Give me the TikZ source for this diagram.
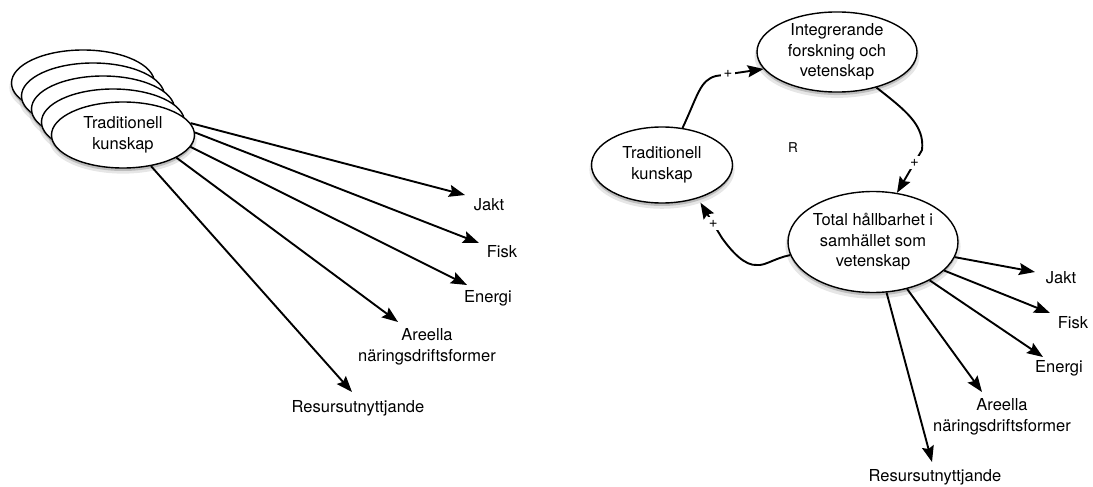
\documentclass[tikz,border=0pt]{standalone}
\usepackage{fontspec}
\setmainfont{TeX Gyre Heros}
\usetikzlibrary{shapes.geometric,shadows,arrows.meta}
\begin{document}
\begin{tikzpicture}[x=1pt,y=-1pt,
  bub/.style={ellipse, draw, line width=1.4pt, fill=white, inner sep=0pt, align=center,
    font=\fontsize{16.5}{20.5}\selectfont,
    drop shadow={shadow xshift=0pt, shadow yshift=-4.5pt, shadow scale=1.03, opacity=0.2},
    drop shadow={shadow xshift=0pt, shadow yshift=-3pt, opacity=0.4}},
  lbl/.style={align=center, inner sep=0pt, font=\fontsize{16.5}{20.5}\selectfont},
  sml/.style={inner sep=3pt, fill=white, font=\fontsize{15}{17}\selectfont},
  arr/.style={line width=1.9pt, -{Stealth[length=16pt,width=12pt,inset=2.5pt]}}]
\useasboundingbox (0,0) rectangle (1093,487);

% ---- left: stacked ellipses
\node[bub, minimum width=143pt, minimum height=66pt] (S4) at (83,83) {};
\node[bub, minimum width=143pt, minimum height=66pt] (S3) at (93,96) {};
\node[bub, minimum width=143pt, minimum height=66pt] (S2) at (103,109) {};
\node[bub, minimum width=143pt, minimum height=66pt] (S1) at (113,122) {};
\node[bub, minimum width=143pt, minimum height=66pt] (T1) at (123,135) {Traditionell\\kunskap};

\node[lbl] (J1) at (489,205) {Jakt};
\node[lbl] (F1) at (502,252) {Fisk};
\node[lbl] (E1) at (488,298) {Energi};
\node[lbl] (A1) at (427,347) {Areella\\näringsdriftsformer};
\node[lbl] (R1) at (358,408) {Resursutnyttjande};

\coordinate (tJ1) at (465,195);
\coordinate (tF1) at (479,243);
\coordinate (tE1) at (467,285);
\coordinate (tA1) at (398,322);
\coordinate (tR1) at (352,392);

\draw[arr] (T1.10) -- (tJ1);
\draw[arr] (T1.2) -- (tF1);
\draw[arr] (T1.-10) -- (tE1);
\draw[arr] (T1.-23) -- (tA1);
\draw[arr] (T1.-48) -- (tR1);

% ---- right: loop
\node[bub, minimum width=141pt, minimum height=76pt] (T2) at (662,165) {Traditionell\\kunskap};
\node[bub, minimum width=160pt, minimum height=80pt] (I) at (837,52) {Integrerande\\forskning och\\vetenskap};
\node[bub, minimum width=170pt, minimum height=101pt] (H) at (873,242) {Total hållbarhet i\\samhället som\\vetenskap};

\node[inner sep=0pt, font=\fontsize{13.5}{15}\selectfont] (Rl) at (793,148) {R};

\draw[arr] (T2.61) .. controls (698,95) and (700,80) .. (716,76)
  -- node[sml, pos=0.25] {+} (I.193);
\draw[arr] (I.-42) .. controls (905,110) and (925,125) .. (922,150)
  -- node[sml, pos=0.3] {+} (H.64);
\draw[arr, shorten >=5pt] (H.189) .. controls (775,258) and (765,266) .. (757,265)
  .. controls (745,266) and (732,252) .. (722,238)
  -- node[sml, pos=0.36] {+} (T2.-43);

\node[lbl] (J2) at (1061,278) {Jakt};
\node[lbl] (F2) at (1073,323) {Fisk};
\node[lbl] (E2) at (1059,368) {Energi};
\node[lbl] (A2) at (1002,417) {Areella\\näringsdriftsformer};
\node[lbl] (R2) at (935,477) {Resursutnyttjande};

\coordinate (tJ2) at (1035,272);
\coordinate (tF2) at (1050,313);
\coordinate (tE2) at (1043,357);
\coordinate (tA2) at (982,392);
\coordinate (tR2) at (932,462);

\draw[arr] (H) -- (tJ2);
\draw[arr] (H) -- (tF2);
\draw[arr] (H) -- (tE2);
\draw[arr] (H) -- (tA2);
\draw[arr] (H) -- (tR2);
\end{tikzpicture}
\end{document}
